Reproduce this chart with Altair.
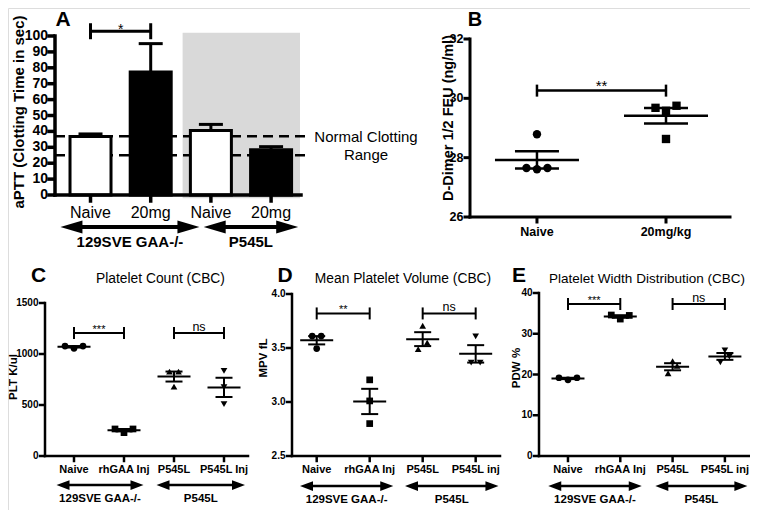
import numpy as np
import pandas as pd
import altair as alt

# ---------------- data ----------------
strains = ["129SVE GAA-/-", "P545L"]

A_categories = ["Naive", "20mg", "Naive", "20mg"]
A_means = [36.8, 77.3, 40.6, 28.4]
A_upper = [38.4, 95.2, 44.4, 30.4]
A_normal_range = [25, 37]

B_categories = ["Naive", "20mg/kg"]
B_values = [[28.79, 27.65, 27.61, 27.65], [29.68, 29.58, 29.75, 28.63]]
B_jitter = [[0, -1, 0, 1], [-1, 0, 1, 0]]

C_categories = ["Naive", "rhGAA Inj", "P545L", "P545L Inj"]
C_values = [[1078, 1056, 1078], [265, 229, 265], [828, 828, 681], [835, 675, 508]]
C_jitter = [[-1, 0, 1], [-1, 0, 1], [-0.5, 0.5, 0], [0, 0, 0]]

D_categories = ["Naive", "rhGAA Inj", "P545L", "P545L inj"]
D_values = [[3.61, 3.61, 3.495], [3.205, 3.01, 2.80], [3.706, 3.49, 3.55], [3.607, 3.365, 3.365]]
D_jitter = [[-0.5, 0.5, 0], [0, 0, 0], [0, -0.5, 0.5], [0, -0.5, 0.5]]

E_categories = ["Naive", "rhGAA Inj", "P545L", "P545L inj"]
E_values = [[19.2, 18.7, 19.2], [34.6, 33.6, 34.5], [23.3, 22.1, 20.3], [25.9, 23.0, 24.4]]
E_jitter = [[-1, 0, 1], [-1, 0, 1], [0, 0.5, -0.5], [0, -0.5, 0.5]]

A_yticks = list(range(0, 101, 10))
B_yticks = [26, 28, 30, 32]
C_yticks = [0, 500, 1000, 1500]
D_yticks = [2.5, 3.0, 3.5, 4.0]
E_yticks = [0, 10, 20, 30, 40]

A_brackets = [(0, 1, 103, "*")]
B_brackets = [(0, 1, 30.26, "**")]
C_brackets = [(0, 1, 1205, "***"), (2, 3, 1205, "ns")]
D_brackets = [(0, 1, 3.82, "**"), (2, 3, 3.82, "ns")]
E_brackets = [(0, 1, 37.3, "***"), (2, 3, 37.3, "ns")]

# ---------------- layout helpers ----------------
OFF = 8
W, H = 742, 502


def P(v):
    return v - OFF


SANS = "Liberation Sans, Arial, sans-serif"


def lin(dom, rng):
    return alt.Scale(domain=dom, range=[P(r) for r in rng], nice=False, zero=False, padding=0)


class Panel:
    """Scales of one panel; its axes (lines, ticks, labels) are drawn as marks."""

    def __init__(self, xdom, xrng, ydom, yrng, cats, yticks, yfmt, xfont, xweight, xlab_y,
                 yfont, ylab_gap, lw, tick=5):
        self.xs, self.ys = lin(xdom, xrng), lin(ydom, yrng)
        self.xrng, self.yrng = xrng, yrng
        self.cats, self.yticks, self.yfmt = cats, yticks, yfmt
        self.xfont, self.xweight, self.xlab_y = xfont, xweight, xlab_y
        self.yfont, self.ylab_gap, self.lw, self.tick = yfont, ylab_gap, lw, tick

    def X(self, f):
        return alt.X(f, scale=self.xs, axis=None)

    def Y(self, f):
        return alt.Y(f, scale=self.ys, axis=None)

    def frame(self):
        ax_x, ax_y = self.xrng[0], self.yrng[0]
        lw, t = self.lw, self.tick
        h = lw / 2
        one = pd.DataFrame({"k": [0]})
        ydom = alt.Chart(one).mark_rect(color="black", opacity=1).encode(
            x=alt.value(P(ax_x - h)), x2=alt.value(P(ax_x + h)),
            y=alt.value(P(self.yrng[0] + h)), y2=alt.value(P(self.yrng[1] - h)))
        xdom = alt.Chart(one).mark_rect(color="black", opacity=1).encode(
            y=alt.value(P(ax_y - h)), y2=alt.value(P(ax_y + h)),
            x=alt.value(P(self.xrng[0] - h)), x2=alt.value(P(self.xrng[1] + h)))
        ydf = pd.DataFrame({"v": self.yticks})
        yt = alt.Chart(ydf).mark_tick(orient="horizontal", size=t + h, thickness=lw,
                                      color="black", opacity=1).encode(
            y=self.Y("v:Q"), x=alt.value(P(ax_x - (t + h) / 2)))
        ylab = alt.Chart(ydf).mark_text(font=SANS, fontSize=self.yfont, fontWeight="bold",
                                        align="right", baseline="middle", color="black").encode(
            y=self.Y("v:Q"), x=alt.value(P(ax_x - self.ylab_gap)),
            text=alt.Text("v:Q", format=self.yfmt))
        xdf = pd.DataFrame({"i": list(range(len(self.cats))), "cat": self.cats})
        xt = alt.Chart(xdf).mark_tick(orient="vertical", size=t + h, thickness=lw,
                                      color="black", opacity=1).encode(
            x=self.X("i:Q"), y=alt.value(P(ax_y + (t + h) / 2)))
        xlab = alt.Chart(xdf).mark_text(font=SANS, fontSize=self.xfont, fontWeight=self.xweight,
                                        align="center", baseline="middle", color="black").encode(
            x=self.X("i:Q"), y=alt.value(P(self.xlab_y)), text="cat:N")
        return [yt, xt, ydom, xdom, ylab, xlab]


def txt(s, x, y, size, weight="normal", angle=0):
    return alt.Chart(pd.DataFrame({"t": [s]})).mark_text(
        fontSize=size, fontWeight=weight, font=SANS, angle=angle, align="center",
        baseline="middle", color="black").encode(x=alt.value(P(x)), y=alt.value(P(y)), text="t:N")


def bracket_layers(pn, brackets, lw, end_h, star_size, star_dy, ns_size=12.5, ns_dy=-2):
    df = pd.DataFrame(brackets, columns=["a", "b", "y", "label"])
    df["mid"] = (df["a"] + df["b"]) / 2
    hline = alt.Chart(df).mark_rule(strokeWidth=lw, color="black").encode(
        x=pn.X("a:Q"), x2="b:Q", y=pn.Y("y:Q"))
    ends = alt.Chart(df).transform_fold(["a", "b"], as_=["end", "ex"]).mark_tick(
        orient="vertical", size=end_h, thickness=lw, color="black", opacity=1).encode(
        x=pn.X("ex:Q"), y=pn.Y("y:Q"))
    stars = alt.Chart(df).transform_filter("datum.label != 'ns'").mark_text(
        font=SANS, fontSize=star_size, baseline="alphabetic", dy=star_dy, color="black").encode(
        x=pn.X("mid:Q"), y=pn.Y("y:Q"), text="label:N")
    ns = alt.Chart(df).transform_filter("datum.label == 'ns'").mark_text(
        font=SANS, fontSize=ns_size, baseline="alphabetic", dy=ns_dy, color="black").encode(
        x=pn.X("mid:Q"), y=pn.Y("y:Q"), text="label:N")
    return [hline, ends, stars, ns]


def arrow_layers(pn, spans, ppu, y_line, y_text, lw, head_len, ratio, size):
    inset = head_len * 0.6 / ppu
    df = pd.DataFrame({"label": strains, "s": [a for a, b in spans], "e": [b for a, b in spans]})
    df["ls"] = df["s"] + inset
    df["le"] = df["e"] - inset
    df["mid"] = (df["s"] + df["e"]) / 2
    lp = f"M0,0L2,-{ratio}L2,{ratio}Z"
    rp = f"M0,0L-2,-{ratio}L-2,{ratio}Z"
    line = alt.Chart(df).mark_rule(strokeWidth=lw, color="black").encode(
        x=pn.X("ls:Q"), x2="le:Q", y=alt.value(P(y_line)))
    lh = alt.Chart(df).mark_point(shape=lp, size=head_len ** 2, filled=True, fill="black",
                                  strokeWidth=0, opacity=1).encode(
        x=pn.X("s:Q"), y=alt.value(P(y_line)))
    rh = alt.Chart(df).mark_point(shape=rp, size=head_len ** 2, filled=True, fill="black",
                                  strokeWidth=0, opacity=1).encode(
        x=pn.X("e:Q"), y=alt.value(P(y_line)))
    lab = alt.Chart(df).mark_text(font=SANS, fontSize=size, fontWeight="bold", color="black",
                                  baseline="middle").encode(
        x=pn.X("mid:Q"), y=alt.value(P(y_text)), text="label:N")
    return [line, lh, rh, lab]


def scatter_layers(pn, values, jitter, spread, shapes, pt_size, mean_w, cap_w, lw):
    cats = pn.cats
    rows = [{"cat": c, "idx": i, "jit": j, "v": v}
            for i, (c, vs, js) in enumerate(zip(cats, values, jitter)) for v, j in zip(vs, js)]
    pts = pd.DataFrame(rows)
    pts["xj"] = pts["idx"] + pts["jit"] * spread
    means = [float(np.mean(v)) for v in values]
    sems = [float(np.std(v, ddof=1) / np.sqrt(len(v))) for v in values]
    summ = pd.DataFrame({"idx": list(range(len(cats))), "mean": means,
                         "lo": [m - s for m, s in zip(means, sems)],
                         "hi": [m + s for m, s in zip(means, sems)]})
    mean_l = alt.Chart(summ).mark_tick(orient="horizontal", size=mean_w, thickness=lw,
                                       color="black", opacity=1).encode(
        x=pn.X("idx:Q"), y=pn.Y("mean:Q"))
    sem_l = alt.Chart(summ).mark_rule(strokeWidth=lw, color="black").encode(
        x=pn.X("idx:Q"), y=pn.Y("lo:Q"), y2="hi:Q")
    caps = alt.Chart(summ).transform_fold(["lo", "hi"], as_=["k", "cv"]).mark_tick(
        orient="horizontal", size=cap_w, thickness=lw, color="black", opacity=1).encode(
        x=pn.X("idx:Q"), y=pn.Y("cv:Q"))
    dots = alt.Chart(pts).mark_point(filled=True, opacity=1, color="black", strokeWidth=0,
                                     size=pt_size).encode(
        x=pn.X("xj:Q"), y=pn.Y("v:Q"),
        shape=alt.Shape("cat:N", scale=alt.Scale(domain=cats, range=shapes), legend=None))
    return [mean_l, sem_l, caps, dots]


# ---------------- Panel A ----------------
pA = Panel([-0.59, 3.497], [55, 301], [0, 100], [195, 36], A_categories, A_yticks, "d",
           16, "normal", 213, 14, 7, 3.5, tick=6)
dfA = pd.DataFrame({"idx": list(range(4)), "cat": A_categories, "mean": A_means, "upper": A_upper})
shade = alt.Chart(pd.DataFrame({"x0": [2 - 0.47], "x1": [3 + 0.48], "y0": [-2], "y1": [102]})).mark_rect(
    color="#d9d9d9").encode(x=pA.X("x0:Q"), x2="x1:Q", y=pA.Y("y0:Q"), y2="y1:Q")
dashed = alt.Chart(pd.DataFrame({"v": A_normal_range})).mark_rule(
    strokeDash=[10, 6], strokeWidth=2.5, color="black").encode(
    y=pA.Y("v:Q"), x=alt.value(P(55)), x2=alt.value(P(310)))
bars = alt.Chart(dfA).mark_bar(size=41, stroke="black", strokeWidth=3, orient="vertical").encode(
    x=pA.X("idx:Q"), y=pA.Y("mean:Q"),
    fill=alt.Fill("cat:N", scale=alt.Scale(domain=["Naive", "20mg"], range=["white", "black"]),
                  legend=None))
err = alt.Chart(dfA).mark_rule(strokeWidth=3, color="black").encode(
    x=pA.X("idx:Q"), y=pA.Y("mean:Q"), y2="upper:Q")
cap = alt.Chart(dfA).mark_tick(orient="horizontal", size=24, thickness=3, color="black",
                               opacity=1).encode(x=pA.X("idx:Q"), y=pA.Y("upper:Q"))
panelA = alt.layer(shade, dashed, bars, err, cap, *pA.frame(),
                   *bracket_layers(pA, A_brackets, 3, 16, 14, 2.5),
                   *arrow_layers(pA, [(-0.5, 1.81), (1.88, 3.45)], 60.2, 227, 242, 4, 22, 0.6, 15))

# ---------------- Panel B ----------------
pB = Panel([-0.519, 1.496], [470, 730], [26, 32], [217, 39], B_categories, B_yticks, "d",
           12.5, "bold", 232, 12.5, 6.5, 3)
panelB = alt.layer(
    *scatter_layers(pB, B_values, B_jitter, 0.0814, ["circle", "square"], 70, 84, 44, 2.5),
    *pB.frame(),
    *bracket_layers(pB, B_brackets, 2.5, 12, 15, 0.5))

# ---------------- Panels C, D, E ----------------
SH4 = ["circle", "square", "triangle-up", "triangle-down"]
pC = Panel([-0.58, 3.48], [45, 248], [0, 1500], [456, 303], C_categories, C_yticks, "d",
           11, "bold", 470, 10, 6.5, 2.5)
pD = Panel([-0.466, 3.459], [292, 500], [2.5, 4.0], [456, 294], D_categories, D_yticks, ".1f",
           11, "bold", 470, 10, 6.5, 2.5)
pE = Panel([-0.554, 3.48], [539, 750], [0, 40], [456, 293], E_categories, E_yticks, "d",
           11, "bold", 470, 10, 6.5, 2.5)

panelC = alt.layer(
    *scatter_layers(pC, C_values, C_jitter, 0.18, SH4, 45, 33, 17, 2), *pC.frame(),
    *bracket_layers(pC, C_brackets, 2, 12, 11, 0),
    *arrow_layers(pC, [(-0.35, 1.39), (1.65, 3.42)], 50, 485, 499, 2.5, 13, 0.75, 11.5))
panelD = alt.layer(
    *scatter_layers(pD, D_values, D_jitter, 0.17, SH4, 45, 33, 17, 2), *pD.frame(),
    *bracket_layers(pD, D_brackets, 2, 12, 11, 0),
    *arrow_layers(pD, [(-0.315, 1.445), (1.666, 3.43)], 53, 486, 500, 2.5, 13, 0.75, 11.5))
panelE = alt.layer(
    *scatter_layers(pE, E_values, E_jitter, 0.172, SH4, 45, 33, 17, 2), *pE.frame(),
    *bracket_layers(pE, E_brackets, 2, 12, 11, 0),
    *arrow_layers(pE, [(-0.377, 1.41), (1.67, 3.43)], 52.3, 486, 500, 2.5, 13, 0.75, 11.5))

# ---------------- free text ----------------
texts = [
    txt("A", 63, 20, 21, "bold"),
    txt("B", 475, 20, 20, "bold"),
    txt("C", 38.7, 276, 21, "bold"),
    txt("D", 285, 276, 21, "bold"),
    txt("E", 519, 276, 21, "bold"),
    txt("Platelet Count (CBC)", 160.5, 279, 13.8),
    txt("Mean Platelet Volume (CBC)", 403, 279, 13.8),
    txt("Platelet Width Distribution (CBC)", 647, 279, 13.5),
    txt("aPTT (Clotting Time in sec)", 19, 112, 15, "bold", 270),
    txt("D-Dimer 1/2 FEU (ng/ml)", 449, 118, 14.5, "bold", 270),
    txt("PLT K/ul", 14, 377, 11.5, "bold", 270),
    txt("MPV fL", 264, 358, 11.5, "bold", 270),
    txt("PDW %", 517, 368, 11.5, "bold", 270),
    txt("Normal Clotting", 366, 137, 15),
    txt("Range", 366, 155, 15),
]

chart = alt.layer(panelA, panelB, panelC, panelD, panelE, *texts).resolve_scale(
    x="independent", y="independent", shape="independent", fill="independent"
).properties(
    width=W, height=H, autosize=alt.AutoSizeParams(type="none"), padding=0
).configure_view(stroke=None).configure(background="white")

chart.save("out.html", embed_options={"renderer": "svg", "actions": False})
